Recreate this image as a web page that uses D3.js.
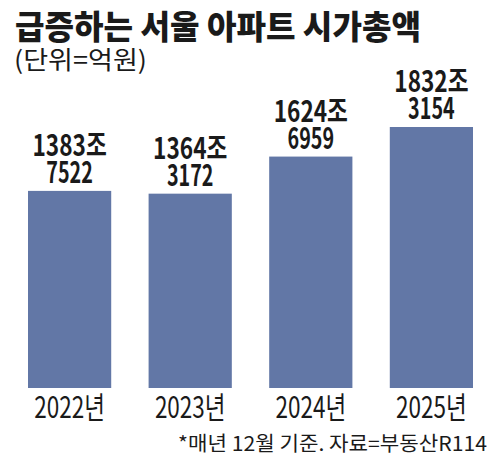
<!DOCTYPE html>
<html>
<head>
<meta charset="utf-8">
<script src="https://cdn.jsdelivr.net/npm/d3@7"></script>
<style>
  body { margin: 0; background: #fff; }
  text { font-family: "Noto Sans CJK KR", sans-serif; fill: #1a1a1a; }
</style>
</head>
<body>
<div id="chart"></div>
<script>
(function(){
// data: 서울 아파트 시가총액 (조 / 억 parts)
const years = ["2022년", "2023년", "2024년", "2025년"];
const valueJo = [1383, 1364, 1624, 1832];
const valueEok = [7522, 3172, 6959, 3154];

const totals = valueJo.map((j, i) => j + valueEok[i] / 10000);

const width = 500, height = 471;

const svg = d3.select("#chart")
    .append("svg")
    .attr("width", width)
    .attr("height", height);

// squeeze text horizontally, the original uses a condensed face
function condense(sel, factor) {
    sel.each(function() {
        const w = this.getComputedTextLength();
        d3.select(this)
            .attr("textLength", w * factor)
            .attr("lengthAdjust", "spacingAndGlyphs");
    });
}

// Scales
const x = d3.scaleBand()
    .domain(years)
    .range([28, 473])
    .paddingInner(0.31)
    .paddingOuter(0);

const y = d3.scaleLinear()
    .domain([0, d3.max(totals)])
    .range([388, 127]);

// Bars
svg.selectAll(".bar")
    .data(totals)
    .enter()
    .append("rect")
    .attr("class", "bar")
    .attr("x", (d, i) => x(years[i]))
    .attr("y", d => y(d))
    .attr("width", x.bandwidth())
    .attr("height", d => y(0) - y(d))
    .attr("fill", "#6277a6");

// Value labels, two lines in one text
const labels = svg.selectAll(".lab")
    .data(totals)
    .enter()
    .append("text")
    .attr("class", "lab")
    .attr("text-anchor", "middle")
    .style("font-size", "29px")
    .style("font-weight", "bold");

labels.append("tspan")
    .attr("x", (d, i) => x(years[i]) + x.bandwidth() / 2)
    .attr("y", d => y(d) - 35)
    .text((d, i) => valueJo[i] + "조")
    .call(condense, 0.78);

labels.append("tspan")
    .attr("x", (d, i) => x(years[i]) + x.bandwidth() / 2)
    .attr("y", d => y(d) - 8)
    .text((d, i) => valueEok[i])
    .call(condense, 0.68);

// X axis labels
const xAxis = svg.append("g")
    .attr("transform", "translate(0,388)")
    .call(d3.axisBottom(x).tickSize(0).tickPadding(0));
xAxis.select(".domain").remove();
xAxis.selectAll("text")
    .attr("y", 30)
    .attr("dy", null)
    .attr("fill", "#1a1a1a")
    .style("font-family", '"Noto Sans CJK KR", sans-serif')
    .style("font-size", "30px")
    .call(condense, 0.75);

// Title
svg.append("text")
    .attr("x", 15)
    .attr("y", 39)
    .style("font-size", "33px")
    .style("font-weight", "900")
    .attr("textLength", 406)
    .attr("lengthAdjust", "spacingAndGlyphs")
    .text("급증하는 서울 아파트 시가총액");

svg.append("text")
    .attr("x", 14)
    .attr("y", 69)
    .style("font-size", "25px")
    .attr("textLength", 133)
    .attr("lengthAdjust", "spacingAndGlyphs")
    .text("(단위=억원)");

// Source note
svg.append("text")
    .attr("x", 487)
    .attr("y", 451)
    .attr("text-anchor", "end")
    .style("font-size", "20px")
    .attr("textLength", 309)
    .attr("lengthAdjust", "spacingAndGlyphs")
    .text("*매년 12월 기준. 자료=부동산R114");

})();
</script>
</body>
</html>
